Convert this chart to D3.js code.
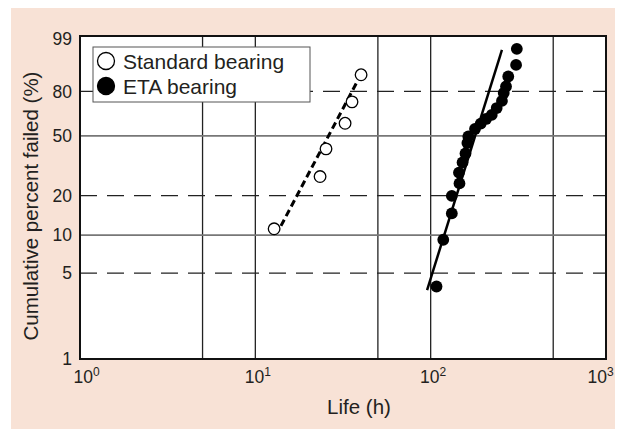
<!DOCTYPE html>
<html>
<head>
<meta charset="utf-8">
<script src="https://cdn.jsdelivr.net/npm/d3@7.9.0/dist/d3.min.js"></script>
<style>
  body { margin: 0; background: #fff; }
  svg { display: block; font-family: "Liberation Sans", Arial, sans-serif; }
</style>
</head>
<body>
<div id="chart"></div>
<script>
// Weibull probability plot data (life in hours, cumulative percent failed)
const xTicks = [1, 10, 100, 1000];
const yTicks = [1, 5, 10, 20, 50, 80, 99];
const xGrid = [5, 10, 50, 100, 500];
const ySolidGrid = [10, 50];
const yDashGrid = [5, 20, 80];

const standardLife = [12.8, 23.4, 25.3, 32.5, 35.6, 40.1];
const standardPct  = [11.2, 27.4, 41.8, 58.5, 73.3, 89.0];
const standardFitLife = [14.0, 38.5];
const standardFitPct  = [11.8, 86.4];

const etaLife = [108, 118, 132, 132, 146, 145, 152, 158, 162, 164, 179, 193,
                 207, 223, 238, 255, 261, 269, 277, 307, 310];
const etaPct  = [3.9, 9.2, 14.7, 19.9, 24.5, 29.2, 34.2, 39.1, 45.4, 49.6, 54.6, 58.3,
                 61.5, 64.3, 69.1, 73.9, 79.0, 82.9, 88.2, 93.0, 97.3];
const etaFitLife = [95.4, 255];
const etaFitPct  = [3.65, 97.1];

const seriesNames = ["Standard bearing", "ETA bearing"];

const W = 618, H = 429;
const margin = { top: 36, right: 12, bottom: 70, left: 80 };
const x0 = margin.left, x1 = 606, y0 = margin.top, y1 = 359;

const svg = d3.select("#chart").append("svg")
  .attr("width", W).attr("height", H);

// background panel
svg.append("rect")
  .attr("x", 11).attr("y", 8).attr("width", 604).attr("height", 421)
  .attr("fill", "#f8e2d6");

// scales
const x = d3.scaleLog().domain([1, 1000]).range([x0, x1]);
const weib = p => Math.log(-Math.log(1 - p / 100));
const yLin = d3.scaleLinear().domain([weib(1), weib(99)]).range([y1, y0]);
const y = p => yLin(weib(p));

svg.append("rect")
  .attr("x", x0).attr("y", y0).attr("width", x1 - x0).attr("height", y1 - y0)
  .attr("fill", "#fff");

// grid
const grid = svg.append("g");
grid.selectAll(".vg").data(xGrid).join("line")
  .attr("x1", d => x(d)).attr("x2", d => x(d))
  .attr("y1", y0).attr("y2", y1)
  .attr("stroke", "#222").attr("stroke-width", 1.3);
grid.selectAll(".hs").data(ySolidGrid).join("line")
  .attr("x1", x0).attr("x2", x1)
  .attr("y1", d => y(d)).attr("y2", d => y(d))
  .attr("stroke", "#777").attr("stroke-width", 1.8);
grid.selectAll(".hd").data(yDashGrid).join("line")
  .attr("x1", x0).attr("x2", x1)
  .attr("y1", d => y(d)).attr("y2", d => y(d))
  .attr("stroke", "#222").attr("stroke-width", 1.3)
  .attr("stroke-dasharray", "17,10");

// frame
svg.append("rect")
  .attr("x", x0).attr("y", y0).attr("width", x1 - x0).attr("height", y1 - y0)
  .attr("fill", "none").attr("stroke", "#111").attr("stroke-width", 2);

// axes
const yAxis = svg.append("g")
  .attr("transform", `translate(${x0},0)`)
  .call(d3.axisLeft(yLin).tickValues(yTicks.map(weib)).tickSize(0).tickPadding(8)
    .tickFormat((d, i) => yTicks[i]));
yAxis.select(".domain").remove();
yAxis.selectAll("text")
  .attr("font-family", "Liberation Sans, Arial, sans-serif")
  .attr("font-size", 17.5).attr("fill", "#231f20")
  .attr("y", (d, i) => i === yTicks.length - 1 ? 3 : 0);

const xAxis = svg.append("g")
  .attr("transform", `translate(0,${y1})`)
  .call(d3.axisBottom(x).tickValues(xTicks).tickSize(0).tickPadding(12).tickFormat(() => ""));
xAxis.select(".domain").remove();
xAxis.selectAll("text")
  .attr("font-family", "Liberation Sans, Arial, sans-serif")
  .attr("font-size", 17.5).attr("fill", "#231f20")
  .attr("dx", (d, i) => i === 0 ? 6 : (i === xTicks.length - 1 ? -6 : 2))
  .each(function(d) {
    const t = d3.select(this);
    t.append("tspan").text("10");
    t.append("tspan").attr("dy", -7).attr("font-size", 12).text(Math.round(Math.log10(d)));
  });

// axis titles
svg.append("text")
  .attr("transform", "translate(38,206) rotate(-90)")
  .attr("text-anchor", "middle")
  .attr("font-size", 20.5).attr("fill", "#231f20")
  .text("Cumulative percent failed (%)");
svg.append("text")
  .attr("x", 359).attr("y", 414)
  .attr("text-anchor", "middle")
  .attr("font-size", 20.5).attr("fill", "#231f20")
  .text("Life (h)");

// fit lines
const line = d3.line().x(d => x(d[0])).y(d => y(d[1]));
svg.append("path")
  .datum(standardFitLife.map((v, i) => [v, standardFitPct[i]]))
  .attr("d", line).attr("fill", "none")
  .attr("stroke", "#000").attr("stroke-width", 3)
  .attr("stroke-dasharray", "7,4");
svg.append("path")
  .datum(etaFitLife.map((v, i) => [v, etaFitPct[i]]))
  .attr("d", line).attr("fill", "none")
  .attr("stroke", "#000").attr("stroke-width", 2.5);

// points
svg.append("g").selectAll("circle")
  .data(standardLife.map((v, i) => [v, standardPct[i]]))
  .join("circle")
  .attr("cx", d => x(d[0])).attr("cy", d => y(d[1])).attr("r", 5.8)
  .attr("fill", "#fff").attr("stroke", "#000").attr("stroke-width", 1.3);
svg.append("g").selectAll("circle")
  .data(etaLife.map((v, i) => [v, etaPct[i]]))
  .join("circle")
  .attr("cx", d => x(d[0])).attr("cy", d => y(d[1])).attr("r", 5.9)
  .attr("fill", "#000");

// legend
const legend = svg.append("g");
legend.append("rect")
  .attr("x", 93).attr("y", 47).attr("width", 217).attr("height", 55)
  .attr("fill", "#fff").attr("stroke", "#555").attr("stroke-width", 1);
const items = legend.selectAll(".li").data(seriesNames).join("g")
  .attr("transform", (d, i) => `translate(106,${61 + i * 25})`);
items.append("circle")
  .attr("r", 8.5)
  .attr("fill", (d, i) => i === 0 ? "#fff" : "#000")
  .attr("stroke", "#000").attr("stroke-width", 1.3);
items.append("text")
  .attr("x", 17).attr("y", 7.5)
  .attr("font-size", 21).attr("fill", "#231f20")
  .text(d => d);
</script>
</body>
</html>
